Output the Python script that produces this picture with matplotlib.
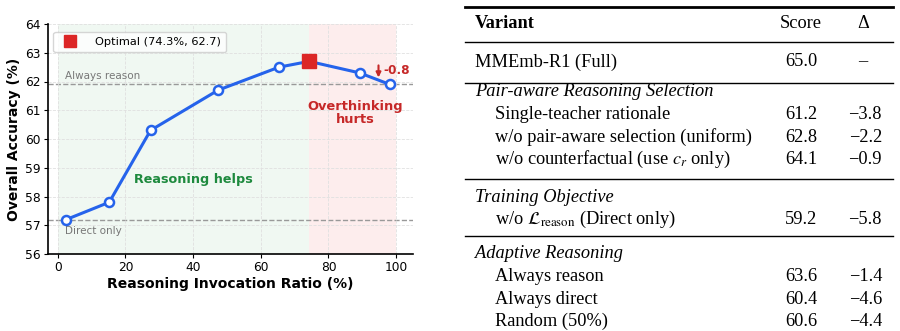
import matplotlib
matplotlib.use("Agg")
import matplotlib.pyplot as plt
from matplotlib.lines import Line2D

# line chart data
ratio = [2.5, 15.2, 27.4, 47.4, 65.4, 74.3, 89.2, 98.1]
acc = [57.2, 57.8, 60.3, 61.7, 62.5, 62.7, 62.3, 61.9]
opt_x, opt_y = 74.3, 62.7
always_reason = 61.9
direct_only = 57.2
yticks = [56, 57, 58, 59, 60, 61, 62, 63, 64]
xticks = [0, 20, 40, 60, 80, 100]

# table data
header = ["Variant", "Score", "Δ"]
full_row = ["MMEmb-R1 (Full)", "65.0", "–"]
sections = ["Pair-aware Reasoning Selection", "Training Objective", "Adaptive Reasoning"]
sec_rows = [
    [["Single-teacher rationale", "61.2", "−3.8"],
     ["w/o pair-aware selection (uniform)", "62.8", "−2.2"],
     ["w/o counterfactual (use $c_r$ only)", "64.1", "−0.9"]],
    [[r"w/o $\mathcal{L}_{\mathrm{reason}}$ (Direct only)", "59.2", "−5.8"]],
    [["Always reason", "63.6", "−1.4"],
     ["Always direct", "60.4", "−4.6"],
     ["Random (50%)", "60.6", "−4.4"]],
]

plt.rcParams["mathtext.fontset"] = "stix"

W, H = 900, 331
fig = plt.figure(figsize=(9, 3.31), dpi=100)
ax = fig.add_axes([47.7 / W, 1 - 254 / H, (413 - 47.7) / W, (254 - 24) / H])

blue = "#2563eb"
red = "#dc2626"

ax.axvspan(0, opt_x, color="#e6f4ea", alpha=0.6, zorder=0, lw=0)
ax.axvspan(opt_x, 100, color="#fde2e2", alpha=0.6, zorder=0, lw=0)
ax.grid(True, ls="--", color="#e0e0e0", lw=0.6, zorder=0.5)

ax.axhline(always_reason, color="#999999", ls="--", lw=1.0, zorder=1)
ax.axhline(direct_only, color="#999999", ls="--", lw=1.0, zorder=1)

idx = [i for i in range(len(ratio)) if ratio[i] != opt_x]
ax.plot(ratio, acc, color=blue, lw=2.2, zorder=3)
ax.plot([ratio[i] for i in idx], [acc[i] for i in idx], "o", ms=6.5,
        mfc="white", mec=blue, mew=1.8, zorder=4)
ax.plot(opt_x, opt_y, "s", color=red, ms=10, zorder=5)

ax.text(2, always_reason + 0.12, "Always reason", color="#777777", fontsize=7.5, va="bottom")
ax.text(2, direct_only - 0.22, "Direct only", color="#777777", fontsize=7.5, va="top")
ax.text(40, 58.6, "Reasoning helps", color="#1e8a3e", fontsize=9.2, fontweight="bold",
        ha="center", va="center")
ax.text(88, 60.9, "Overthinking\nhurts", color="#c62828", fontsize=9.4, fontweight="bold",
        ha="center", va="center", linespacing=1.0)
ax.annotate("", xy=(94.8, 62.14), xytext=(94.8, 62.56),
            arrowprops=dict(arrowstyle="-|>", color="#c62828", lw=1.5, mutation_scale=7,
                            shrinkA=0, shrinkB=0))
ax.text(96.2, 62.38, "-0.8", color="#c62828", fontsize=8.7, fontweight="bold",
        ha="left", va="center")

ax.set_xlim(-3, 105)
ax.set_ylim(56, 64)
ax.set_xticks(xticks)
ax.set_yticks(yticks)
ax.tick_params(labelsize=8.8, length=3, pad=2)
ax.set_xlabel("Reasoning Invocation Ratio (%)", fontsize=10, fontweight="bold", labelpad=2)
ax.set_ylabel("Overall Accuracy (%)", fontsize=10, fontweight="bold", labelpad=3)
for s in ["top", "right"]:
    ax.spines[s].set_visible(False)
for s in ["left", "bottom"]:
    ax.spines[s].set_linewidth(1.2)

handle = Line2D([], [], marker="s", color=red, ls="", ms=9)
ax.legend([handle], ["Optimal (74.3%, 62.7)"], loc="upper left", fontsize=8.2,
          frameon=True, borderpad=0.45, handletextpad=1.2, bbox_to_anchor=(0.0, 0.99))

# table drawn in pixel coords
def px(x, y):
    return x / W, 1 - y / H

serif = "Liberation Serif"
fs = 13.2
x0, x1 = 465, 893
x_lab, x_ind, x_score, x_dr = 475, 495, 801, 882

def rule(y, lw):
    fig.add_artist(Line2D([x0 / W, x1 / W], [1 - y / H] * 2, color="black", lw=lw))

def row(y, cells, indent=True):
    fig.text(*px(x_ind if indent else x_lab, y), cells[0], fontsize=fs, family=serif, va="center")
    fig.text(*px(x_score, y), cells[1], fontsize=fs, family=serif, va="center", ha="center")
    fig.text(*px(x_dr, y), cells[2], fontsize=fs, family=serif, va="center", ha="right")

rule(7, 2.0)
fig.text(*px(x_lab, 24), header[0], fontsize=fs, family=serif, fontweight="bold", va="center")
fig.text(*px(x_score, 24), header[1], fontsize=fs, family=serif, va="center", ha="center")
fig.text(*px(863, 24), header[2], fontsize=fs, family=serif, va="center", ha="center")
rule(42, 1.0)
fig.text(*px(x_lab, 62), full_row[0], fontsize=fs, family=serif, va="center")
fig.text(*px(x_score, 62), full_row[1], fontsize=fs, family=serif, va="center", ha="center")
fig.text(*px(863, 62), full_row[2], fontsize=fs, family=serif, va="center", ha="center")

sec_y = [92, 197, 254]
rule_y = [83, 179, 236]
step = 22.6
for k, name in enumerate(sections):
    rule(rule_y[k], 1.0)
    fig.text(*px(x_lab, sec_y[k]), name, fontsize=fs, family=serif, style="italic", va="center")
    for j, r in enumerate(sec_rows[k]):
        row(sec_y[k] + step * (j + 1), r)

fig.savefig("out.png", dpi=100)
